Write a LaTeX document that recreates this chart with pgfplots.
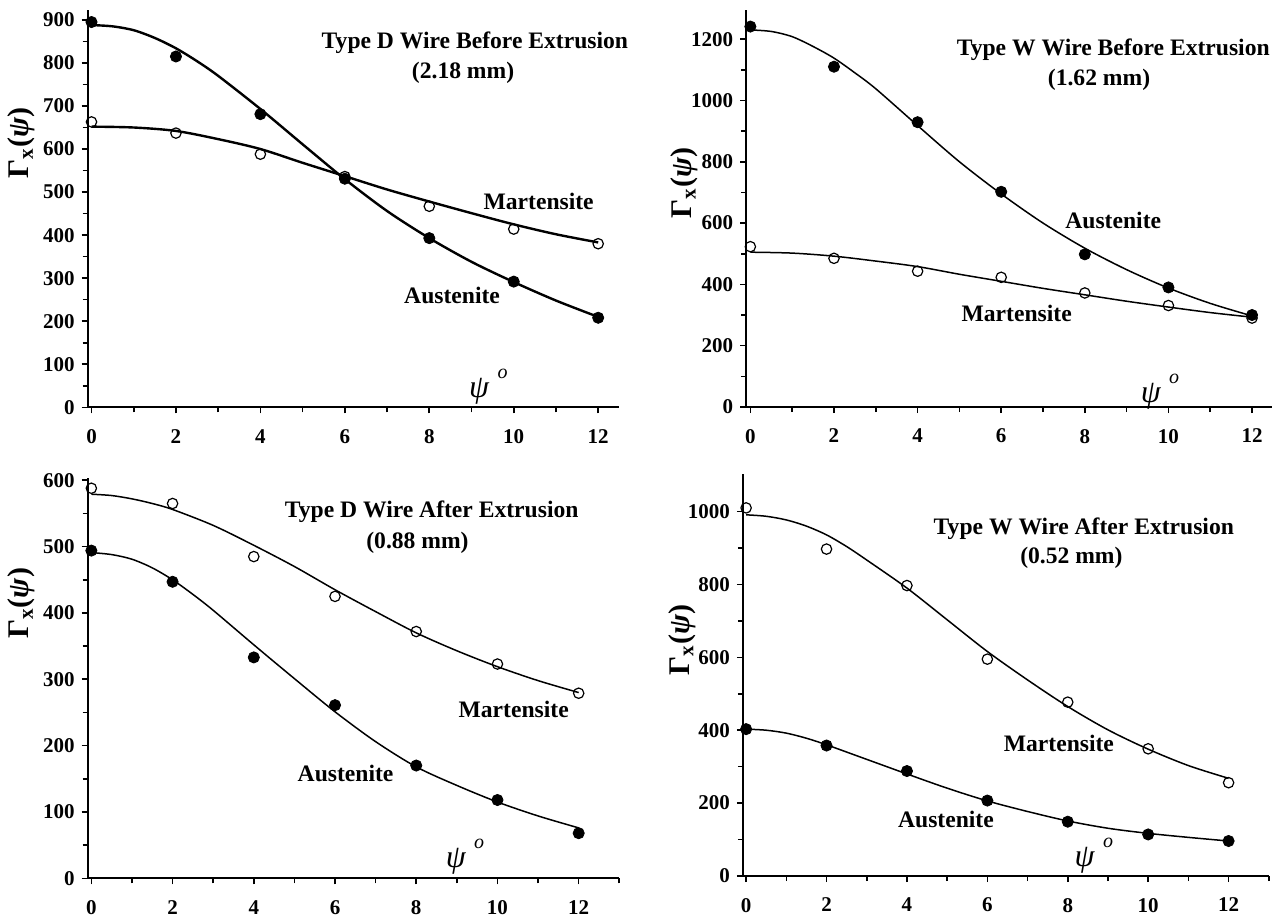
\documentclass[border=0pt]{standalone}
\usepackage{fontspec}
\setmainfont{Liberation Serif}
\usepackage{pgfplots}
\pgfplotsset{compat=1.18}

\pgfplotsset{
  panel/.style={
    scale only axis, anchor=south west,
    axis x line*=bottom, axis y line*=left,
    axis line style={-, line width=1pt},
    ymin=0, xtick={0,2,...,12}, minor xtick={1,3,...,13},
    minor y tick num=1,
    tick align=outside, major tick length=3pt, minor tick length=2.5pt,
    tick style={line width=0.8pt, black},
    clip=false,
    ticklabel style={font=\bfseries\fontsize{10.5}{12}\selectfont},
    xticklabel style={yshift=-4.5pt},
    /pgf/number format/assume math mode=true,
    /pgf/number format/1000 sep={},
  },
  fit/.style={no marks, smooth, black, line width=#1},
  fit/.default=0.75pt,
  full/.style={only marks, mark=*, mark size=2.8pt, mark options={fill=black, draw=black}},
  open/.style={only marks, mark=o, mark size=2.6pt, mark options={line width=0.6pt, fill=white}},
}
\newcommand{\lab}{\bfseries\fontsize{11.8}{13}\selectfont}
\newcommand{\ylab}{\bfseries\fontsize{15}{17}\selectfont Γ\textsubscript{x}(\textit{ψ})}
\newcommand{\psideg}{\fontsize{16}{18}\selectfont\textit{ψ}\hspace{4pt}\raisebox{1.3ex}{\fontsize{10}{10}\selectfont\textit{o}}}

\begin{document}
\begin{tikzpicture}
\useasboundingbox (0,0) rectangle (641pt,459pt);

% top left
\begin{axis}[panel, at={(43.85pt,255.35pt)}, width=265.8pt, height=198.65pt,
  xmin=-0.09, xmax=12.5, ymax=923, ytick={0,100,...,900}]
\addplot[fit=1.2pt] coordinates {(0,888)(0.5,885)(1,876)(1.5,858)(2,834)(2.5,804)(3,770)(4,693)(5,611)(6,530)(7,456)(8,393)(9,338)(10,291)(11,248)(12,210)};
\addplot[fit=1.2pt] coordinates {(0,652)(1,650)(2,642)(3,623)(4,600)(5,568)(6,537)(7,506)(8,478)(9,451)(10,425)(11,402)(12,383)};
\addplot[full] coordinates {(0,895)(2,815)(4,681)(6,531)(8,393)(10,292)(12,208)};
\addplot[open] coordinates {(0,663)(2,637)(4,588)(6,536)(8,467)(10,414)(12,380)};
\node[font=\lab] at (axis cs:9.08,846) {Type D Wire Before Extrusion};
\node[font=\lab] at (axis cs:8.8,777) {(2.18 mm)};
\node[font=\lab] at (axis cs:10.59,478) {Martensite};
\node[font=\lab] at (axis cs:8.54,259) {Austenite};
\node at (axis cs:9.4,48) {\psideg};
\node[rotate=90] at (rel axis cs:-0.125,0.665) {\ylab};
\end{axis}

% top right
\begin{axis}[panel, at={(373.1pt,255.5pt)}, width=262.75pt, height=198.5pt,
  xmin=-0.1, xmax=12.47, ymax=1295, ytick={0,200,...,1200}]
\addplot[fit] coordinates {(0,1230)(0.5,1225)(1,1208)(1.5,1176)(2,1138)(2.5,1090)(3,1038)(4,918)(5,800)(6,695)(7,600)(8,518)(9,448)(10,388)(11,338)(12,297)};
\addplot[fit] coordinates {(0,505)(1,502)(2,492)(3,476)(4,458)(5,433)(6,410)(7,387)(8,366)(9,345)(10,326)(11,308)(12,293)};
\addplot[full] coordinates {(0,1241)(2,1110)(4,929)(6,702)(8,498)(10,390)(12,300)};
\addplot[open] coordinates {(0,523)(2,485)(4,443)(6,423)(8,372)(10,331)(12,290)};
\node[font=\lab] at (axis cs:8.68,1165) {Type W Wire Before Extrusion};
\node[font=\lab] at (axis cs:8.34,1067) {(1.62 mm)};
\node[font=\lab] at (axis cs:8.68,609) {Austenite};
\node[font=\lab] at (axis cs:6.37,304) {Martensite};
\node at (axis cs:9.8,50) {\psideg};
\node[rotate=90] at (rel axis cs:-0.118,0.564) {\ylab};
\end{axis}

% bottom left
\begin{axis}[panel, at={(43.85pt,19.85pt)}, width=265.8pt, height=200pt,
  xmin=-0.09, xmax=13, ymax=603, ytick={0,100,...,600}]
\addplot[fit] coordinates {(0,579)(0.5,577)(1,572)(1.5,565)(2,556)(3,532)(4,502)(5,470)(6,435)(7,402)(8,370)(9,343)(10,319)(11,298)(12,280)};
\addplot[fit] coordinates {(0,491)(0.5,488)(1,481)(1.5,468)(2,450)(2.5,428)(3,404)(4,352)(5,301)(6,251)(7,206)(8,168)(9,140)(10,115)(11,94)(12,76)};
\addplot[open] coordinates {(0,588)(2,565)(4,485)(6,425)(8,372)(10,323)(12,279)};
\addplot[full] coordinates {(0,494)(2,447)(4,333)(6,261)(8,170)(10,118)(12,68)};
\node[font=\lab] at (axis cs:8.38,552) {Type D Wire After Extrusion};
\node[font=\lab] at (axis cs:8.03,505) {(0.88 mm)};
\node[font=\lab] at (axis cs:10.4,254) {Martensite};
\node[font=\lab] at (axis cs:6.26,158) {Austenite};
\node at (axis cs:9.2,32) {\psideg};
\node[rotate=90] at (rel axis cs:-0.125,0.6875) {\ylab};
\end{axis}

% bottom right
\begin{axis}[panel, at={(371.45pt,21pt)}, width=262.95pt, height=201pt,
  xmin=-0.08, xmax=13, ymax=1103, ytick={0,200,...,1000}]
\addplot[fit] coordinates {(0,991)(0.5,987)(1,977)(1.5,960)(2,936)(2.5,904)(3,867)(4,790)(5,703)(6,616)(7,538)(8,465)(9,401)(10,348)(11,303)(12,268)};
\addplot[fit] coordinates {(0,403)(0.5,400)(1,392)(1.5,378)(2,360)(3,320)(4,280)(5,241)(6,206)(7,177)(8,151)(9,131)(10,117)(11,106)(12,96)};
\addplot[open] coordinates {(0,1010)(2,897)(4,797)(6,595)(8,477)(10,349)(12,256)};
\addplot[full] coordinates {(0,403)(2,358)(4,288)(6,207)(8,149)(10,114)(12,96)};
\node[font=\lab] at (axis cs:8.4,954) {Type W Wire After Extrusion};
\node[font=\lab] at (axis cs:8.09,872) {(0.52 mm)};
\node[font=\lab] at (axis cs:7.78,364) {Martensite};
\node[font=\lab] at (axis cs:4.97,154) {Austenite};
\node at (axis cs:8.65,56) {\psideg};
\node[rotate=90] at (rel axis cs:-0.116,0.587) {\ylab};
\end{axis}
\end{tikzpicture}
\end{document}
